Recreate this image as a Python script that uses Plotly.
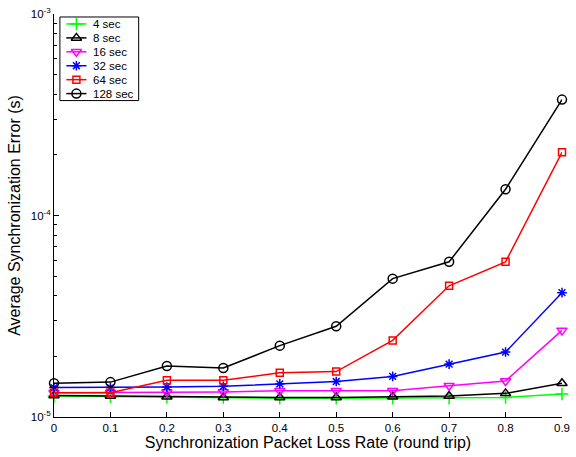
import plotly.graph_objects as go

loss_rate = [0, 0.1, 0.2, 0.3, 0.4, 0.5, 0.6, 0.7, 0.8, 0.9]
err_4 = [1.27e-5, 1.26e-5, 1.25e-5, 1.25e-5, 1.24e-5, 1.24e-5, 1.24e-5, 1.24e-5, 1.25e-5, 1.30e-5]
err_8 = [1.28e-5, 1.27e-5, 1.26e-5, 1.25e-5, 1.25e-5, 1.25e-5, 1.26e-5, 1.27e-5, 1.31e-5, 1.47e-5]
err_16 = [1.32e-5, 1.32e-5, 1.33e-5, 1.33e-5, 1.35e-5, 1.35e-5, 1.35e-5, 1.43e-5, 1.51e-5, 2.69e-5]
err_32 = [1.40e-5, 1.40e-5, 1.41e-5, 1.42e-5, 1.46e-5, 1.50e-5, 1.59e-5, 1.83e-5, 2.10e-5, 4.14e-5]
err_64 = [1.32e-5, 1.32e-5, 1.52e-5, 1.52e-5, 1.66e-5, 1.68e-5, 2.40e-5, 4.48e-5, 5.89e-5, 2.06e-4]
err_128 = [1.47e-5, 1.49e-5, 1.79e-5, 1.75e-5, 2.26e-5, 2.82e-5, 4.86e-5, 5.89e-5, 1.35e-4, 3.76e-4]

series_names = ["4 sec", "8 sec", "16 sec", "32 sec", "64 sec", "128 sec"]
series_values = [err_4, err_8, err_16, err_32, err_64, err_128]
series_colors = ["#00ff00", "#000000", "#ff00ff", "#0000ff", "#ff0000", "#000000"]
series_symbols = ["cross-thin-open", "triangle-up-open", "triangle-down-open",
                  "asterisk-open", "square-open", "circle-open"]
series_sizes = [9, 9, 9, 8, 7, 9]

x_ticks = [0, 0.1, 0.2, 0.3, 0.4, 0.5, 0.6, 0.7, 0.8, 0.9]
x_ticklabels = ["0", "0.1", "0.2", "0.3", "0.4", "0.5", "0.6", "0.7", "0.8", "0.9"]
y_ticks = [1e-5, 1e-4, 1e-3]
y_ticklabels = ["10<sup>-5</sup>", "10<sup>-4</sup>", "10<sup>-3</sup>"]
y_minor = [m * 10.0 ** e for e in (-5, -4) for m in range(2, 10)]

FONT = "Liberation Sans, Arial, Helvetica, sans-serif"

# plot area in pixels
L, R, T, B = 54, 570, 12, 417
W, H = 576, 457

fig = go.Figure()
for name, vals, col, sym, sz in zip(series_names, series_values, series_colors,
                                    series_symbols, series_sizes):
    fig.add_trace(go.Scatter(
        x=loss_rate, y=vals, name=name, mode="lines+markers",
        line=dict(color=col, width=1.5),
        marker=dict(symbol=sym, size=sz, color=col, line=dict(color=col, width=1.5)),
        cliponaxis=False, showlegend=False,
    ))

# compact MATLAB-style legend on an overlay pixel-coordinate axis
leg_x0, leg_x1, leg_y0, leg_y1 = 60, 140, 15, 99
row_h = (leg_y1 - leg_y0) / len(series_names)
for i, (name, col, sym, sz) in enumerate(zip(series_names, series_colors,
                                             series_symbols, series_sizes)):
    yc = leg_y0 + row_h * (i + 0.5)
    fig.add_trace(go.Scatter(
        x=[66.5, 87], y=[yc, yc], mode="lines", xaxis="x2", yaxis="y2",
        line=dict(color=col, width=1.5), showlegend=False, hoverinfo="skip",
    ))
    fig.add_trace(go.Scatter(
        x=[76.75], y=[yc], mode="markers", xaxis="x2", yaxis="y2",
        marker=dict(symbol=sym, size=sz, color=col, line=dict(color=col, width=1.5)),
        showlegend=False, hoverinfo="skip", cliponaxis=False,
    ))
    fig.add_annotation(
        x=91.5, y=yc, xref="x2", yref="y2", text=name, showarrow=False,
        xanchor="left", yanchor="middle", font=dict(family=FONT, size=11.5, color="black"),
    )
fig.add_shape(type="rect", xref="x2", yref="y2", x0=leg_x0, x1=leg_x1, y0=leg_y0, y1=leg_y1,
              line=dict(color="black", width=1), fillcolor="white", layer="below")

fig.update_layout(
    width=W, height=H,
    margin=dict(l=L, r=W - R, t=T, b=H - B),
    paper_bgcolor="white", plot_bgcolor="white",
    font=dict(family=FONT, size=11, color="black"),
    showlegend=False,
    xaxis2=dict(overlaying="x", range=[L, R], visible=False, fixedrange=True),
    yaxis2=dict(overlaying="y", range=[B, T], visible=False, fixedrange=True),
)

fig.layout.xaxis.update(
    range=[0, 0.9], tickmode="array", tickvals=x_ticks, ticktext=x_ticklabels,
    ticks="inside", ticklen=5, tickcolor="black", showline=True, linecolor="black",
    linewidth=1, showgrid=False, zeroline=False, mirror=False,
    ticklabeloverflow="allow",
    tickfont=dict(family=FONT, size=11.5),
    title=dict(text="Synchronization Packet Loss Rate (round trip)",
               font=dict(family=FONT, size=16), standoff=3),
)
fig.layout.yaxis.update(
    type="log", range=[-5, -3], tickmode="array", tickvals=y_ticks, ticktext=y_ticklabels,
    ticks="inside", ticklen=5, tickcolor="black", showline=True, linecolor="black",
    linewidth=1, showgrid=False, zeroline=False, mirror=False,
    tickfont=dict(family=FONT, size=11.5),
    minor=dict(tickmode="array", tickvals=y_minor, ticks="inside", ticklen=3,
               tickcolor="black", showgrid=False),
    title=dict(text="Average Synchronization Error (s)",
               font=dict(family=FONT, size=16), standoff=6),
)

fig.write_html("out.html")
